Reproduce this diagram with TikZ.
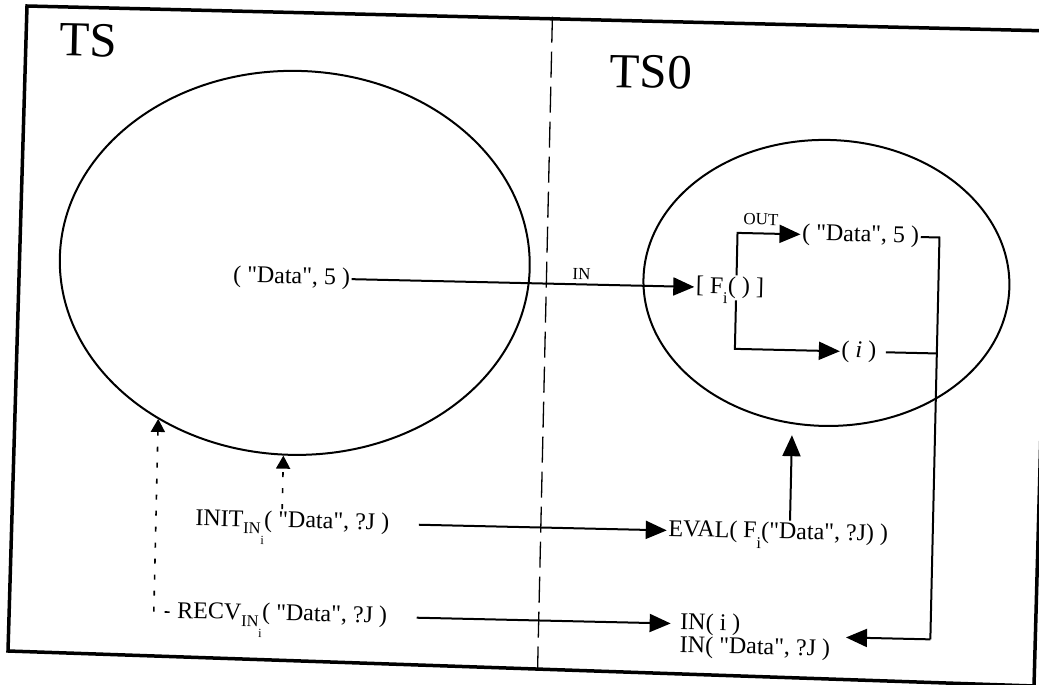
\documentclass[tikz,border=0pt]{standalone}
\usepackage{fontspec}
\setmainfont{Liberation Serif}[Ligatures=TeXOff]
\usetikzlibrary{arrows.meta,calc,shapes.geometric}
\newcommand\sbi{\raisebox{-0.42em}[0pt][0pt]{\fontsize{16.5}{16.5}\selectfont i}}
\newcommand\sbIN{\raisebox{-0.3em}[0pt][0pt]{\fontsize{16.5}{16.5}\selectfont IN\raisebox{-0.6em}[0pt][0pt]{\fontsize{12.5}{12.5}\selectfont i}}}
\begin{document}
\begin{tikzpicture}[x=1pt,y=-1pt,
  txt/.style={font=\fontsize{24}{25}\selectfont, inner sep=1.5pt},
  lbl/.style={font=\fontsize{17}{18}\selectfont, inner sep=1pt},
  big/.style={font=\fontsize{49}{51}\selectfont, inner sep=0pt},
  conn/.style={line width=2pt},
  arr/.style={conn, -{Triangle[length=21pt,width=18pt]}},
  dots/.style={line width=1.6pt, dash pattern=on 5pt off 11pt},
  darr/.style={dots, -{Triangle[length=13pt,width=14pt]}},
  divider/.style={line width=1.3pt, dash pattern=on 26pt off 9pt},
  frame/.style={line width=3.5pt, line join=miter},
  oval/.style={draw, ellipse, line width=2pt, inner sep=0pt}]
\useasboundingbox (0,0) rectangle (1039,685);
% outer frame (scanned, slightly skewed)
\coordinate (fTL) at (27,6);
\coordinate (fTR) at (1052,31);
\coordinate (fBR) at (1034,686);
\coordinate (fBL) at (8,651);
\draw[frame] (fTL) -- (fTR) -- (fBR) -- (fBL) -- cycle;
\begin{scope}[rotate around={-1.3:(520,343)}, every node/.append style={transform shape}]
  \node[big] (ts) at (82,50) {TS};
  \node[big] (ts0) at (645,69) {TS0};
  \coordinate (dvT) at (545,16);
  \coordinate (dvB) at (545,668);
  \draw[divider] (dvT) -- (dvB);
  \node[oval, minimum width=470pt, minimum height=384pt] (e1) at (293,268) {};
  \node[oval, minimum width=366pt, minimum height=286pt] (e2) at (825,276) {};
  \node[txt, anchor=west] (d1) at (230,283) {( "Data", 5 )};
  \node[txt, anchor=west] (fi) at (693,283) {[ F\sbi( ) ]};
  \node[txt, anchor=west] (d2) at (798,228) {( "Data", 5 )};
  \node[txt, anchor=west] (ii) at (840,344) {( \textit{i} )};
  \node[lbl] (out) at (758,214) {OUT};
  \node[txt, anchor=east] (init) at (395,527) {INIT\sbIN( "Data", ?J )};
  \node[txt, anchor=west] (eval) at (671,527) {EVAL( F\sbi("Data", ?J) )};
  \node[txt, anchor=east] (recv) at (395,620) {RECV\sbIN( "Data", ?J )};
  \node[txt, anchor=west] (in1) at (685,620) {IN( i )};
  \node[txt, anchor=west] (in2) at (685,643) {IN( "Data", ?J )};
  \coordinate (c1) at (735,228);
  \coordinate (c2) at (735,344);
  \coordinate (c3) at (937,228);
  \coordinate (c4) at (937,630);
  \coordinate (ux) at (794,0);
  \coordinate (lx) at (160,0);
  \coordinate (rx) at (286,0);
  % connectors
  \draw[arr] (d1.east) -- (d1.east -| fi.west) node[lbl, pos=0.67, above=3pt] (inlbl) {IN};
  \draw[arr] (fi.north -| c1) -- (c1) -- (c1 -| d2.west);
  \draw[arr] (fi.south -| c2) -- (c2) -- (c2 -| ii.west);
  \draw[conn] (d2.east) -- (c3) -- (c4);
  \draw[conn] ([xshift=8pt]ii.east) -- (ii.east -| c3);
  \draw[arr] (c4) -- ([xshift=14pt]in2.east |- c4);
  \draw[arr] ([xshift=28pt]init.east) -- (eval.west);
  \draw[arr] ([xshift=28pt]recv.east) -- ([xshift=-8pt]in1.west);
  \draw[arr, shorten >=9pt] (eval.north -| ux) -- (e2.south -| ux);
  \draw[darr] ([xshift=-6pt]recv.west) -- (recv.west -| lx) -- (lx |- e1.230);
  \draw[darr] (init.north -| rx) -- (rx |- e1.south);
\end{scope}
\end{tikzpicture}
\end{document}
